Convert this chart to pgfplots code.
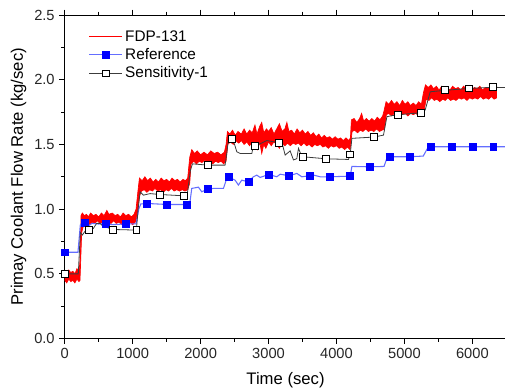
\documentclass[border=0pt]{standalone}
\usepackage{fontspec}
\setmainfont{Liberation Sans}
\usepackage{pgfplots}
\pgfplotsset{compat=1.18}
\usepgfplotslibrary{fillbetween}
\definecolor{refline}{RGB}{100,110,255}
\definecolor{sensline}{RGB}{60,60,60}
\begin{document}
\begin{tikzpicture}
\begin{axis}[
  scale only axis, width=331pt, height=242.5pt,
  xmin=0, xmax=6500, ymin=0, ymax=2.5,
  xtick={0,1000,2000,3000,4000,5000,6000}, minor x tick num=1,
  ytick={0,0.5,1.0,1.5,2.0,2.5}, minor y tick num=1,
  tick align=outside, xtick pos=both, ytick pos=left,
  major tick length=4pt, minor tick length=2.5pt,
  tick style={black, line width=0.6pt},
  axis line style={line width=0.7pt},
  /pgf/number format/assume math mode=true,
  xticklabel style={/pgf/number format/1000 sep={}},
  yticklabel style={/pgf/number format/fixed, /pgf/number format/fixed zerofill, /pgf/number format/precision=1},
  ticklabel style={font=\fontsize{11}{13}\selectfont, text=black!85},
  xlabel={Time (sec)}, ylabel={Primay Coolant Flow Rate (kg/sec)},
  label style={font=\fontsize{12.5}{14}\selectfont},
  xlabel style={yshift=-3pt},
  ylabel style={yshift=-1pt},
  legend style={at={(0.045,0.97)}, anchor=north west, draw=none, fill=none, font=\fontsize{11.5}{13}\selectfont, row sep=0pt},
  legend cell align=left,
  legend image code/.code={\draw[mark repeat=2,mark phase=2] plot coordinates {(0cm,0cm)(0.43cm,0cm)(0.86cm,0cm)};},
]
% FDP-131 upper envelope
\addplot[red, line width=0.5pt, name path=U, forget plot] coordinates {
(0,0.52)(30,0.50)(60,0.53)(90,0.51)(120,0.52)(150,0.50)(180,0.54)(210,0.52)(225,0.60)
(240,0.95)(260,0.97)(290,0.95)(320,0.96)(350,0.94)(380,0.97)(420,0.95)(460,0.96)(500,0.94)
(540,0.97)(580,0.95)(620,0.99)(650,0.96)(700,0.97)(740,0.95)(780,0.96)(820,0.94)(860,0.97)
(900,0.95)(940,0.96)(980,0.94)(1020,0.96)(1050,1.00)(1080,1.15)(1100,1.24)(1140,1.22)
(1180,1.25)(1220,1.22)(1260,1.24)(1300,1.21)(1340,1.23)(1380,1.21)(1420,1.24)(1460,1.22)
(1500,1.23)(1540,1.21)(1580,1.24)(1620,1.22)(1660,1.23)(1700,1.21)(1740,1.23)(1780,1.22)
(1810,1.24)(1840,1.40)(1870,1.46)(1910,1.43)(1950,1.45)(2000,1.42)(2050,1.44)(2100,1.42)
(2150,1.45)(2200,1.43)(2250,1.44)(2300,1.42)(2350,1.44)(2375,1.50)(2395,1.60)(2430,1.58)
(2470,1.61)(2510,1.57)(2550,1.60)(2600,1.58)(2640,1.62)(2680,1.58)(2720,1.61)(2760,1.59)
(2800,1.65)(2830,1.58)(2870,1.64)(2900,1.67)(2930,1.59)(2970,1.62)(3000,1.60)(3040,1.63)
(3080,1.58)(3120,1.62)(3160,1.66)(3200,1.60)(3240,1.62)(3270,1.67)(3300,1.60)(3340,1.61)
(3380,1.58)(3420,1.62)(3460,1.59)(3500,1.61)(3540,1.58)(3580,1.60)(3620,1.57)(3660,1.59)
(3700,1.56)(3740,1.58)(3780,1.55)(3820,1.57)(3860,1.55)(3900,1.56)(3940,1.54)(3980,1.56)
(4020,1.54)(4060,1.55)(4100,1.53)(4140,1.55)(4180,1.53)(4205,1.55)(4220,1.69)(4260,1.70)
(4300,1.67)(4340,1.70)(4370,1.74)(4400,1.68)(4440,1.70)(4480,1.68)(4520,1.70)(4560,1.68)
(4600,1.71)(4640,1.69)(4680,1.72)(4700,1.76)(4730,1.83)(4770,1.81)(4810,1.84)(4850,1.81)
(4890,1.83)(4930,1.80)(4970,1.84)(5010,1.81)(5050,1.83)(5090,1.80)(5130,1.82)(5170,1.80)
(5210,1.83)(5250,1.81)(5280,1.90)(5310,1.96)(5350,1.94)(5390,1.96)(5430,1.93)(5470,1.95)
(5510,1.92)(5550,1.95)(5590,1.93)(5630,1.94)(5670,1.92)(5710,1.95)(5750,1.93)(5790,1.94)
(5830,1.92)(5870,1.95)(5910,1.93)(5950,1.94)(5990,1.92)(6030,1.94)(6070,1.93)(6110,1.95)
(6150,1.92)(6190,1.94)(6230,1.93)(6270,1.95)(6310,1.93)(6360,1.94)
};
% FDP-131 lower envelope
\addplot[red, line width=0.5pt, name path=L, forget plot] coordinates {
(0,0.45)(30,0.43)(60,0.46)(90,0.44)(120,0.45)(150,0.43)(180,0.46)(210,0.44)(225,0.45)
(250,0.82)(280,0.88)(320,0.90)(360,0.88)(400,0.90)(440,0.89)(480,0.91)(520,0.89)(560,0.90)
(600,0.88)(640,0.90)(680,0.89)(720,0.91)(760,0.89)(800,0.90)(840,0.88)(880,0.90)(920,0.89)
(960,0.90)(1000,0.88)(1040,0.90)(1070,0.95)(1100,1.10)(1130,1.14)(1170,1.15)(1210,1.13)
(1250,1.15)(1290,1.14)(1330,1.16)(1370,1.14)(1410,1.15)(1450,1.13)(1490,1.15)(1530,1.14)
(1570,1.16)(1610,1.14)(1650,1.15)(1690,1.14)(1730,1.15)(1770,1.14)(1810,1.15)(1840,1.20)
(1860,1.35)(1900,1.37)(1940,1.35)(1980,1.37)(2020,1.36)(2060,1.38)(2100,1.36)(2140,1.37)
(2180,1.35)(2220,1.37)(2260,1.36)(2300,1.37)(2340,1.35)(2375,1.37)(2400,1.50)(2440,1.52)
(2480,1.50)(2520,1.53)(2560,1.51)(2600,1.53)(2640,1.50)(2680,1.52)(2720,1.49)(2760,1.52)
(2800,1.50)(2840,1.46)(2870,1.52)(2900,1.43)(2930,1.50)(2960,1.47)(3000,1.52)(3040,1.49)
(3080,1.52)(3120,1.50)(3160,1.47)(3200,1.51)(3240,1.49)(3280,1.51)(3320,1.49)(3360,1.51)
(3400,1.50)(3440,1.51)(3480,1.49)(3520,1.51)(3560,1.49)(3600,1.50)(3640,1.48)(3680,1.50)
(3720,1.49)(3760,1.50)(3800,1.48)(3840,1.49)(3880,1.47)(3920,1.49)(3960,1.48)(4000,1.49)
(4040,1.47)(4080,1.48)(4120,1.46)(4160,1.48)(4200,1.46)(4230,1.60)(4270,1.61)(4310,1.59)
(4350,1.61)(4390,1.60)(4430,1.62)(4470,1.60)(4510,1.61)(4550,1.60)(4590,1.62)(4630,1.60)
(4670,1.61)(4705,1.62)(4735,1.73)(4770,1.74)(4810,1.72)(4850,1.74)(4890,1.73)(4930,1.75)
(4970,1.73)(5010,1.74)(5050,1.72)(5090,1.74)(5130,1.73)(5170,1.74)(5210,1.72)(5250,1.74)
(5290,1.76)(5320,1.85)(5360,1.84)(5400,1.86)(5440,1.84)(5480,1.85)(5520,1.83)(5560,1.85)
(5600,1.84)(5640,1.86)(5680,1.84)(5720,1.85)(5760,1.84)(5800,1.86)(5840,1.85)(5880,1.86)
(5920,1.84)(5960,1.86)(6000,1.85)(6040,1.86)(6080,1.85)(6120,1.87)(6160,1.85)(6200,1.86)
(6240,1.85)(6280,1.87)(6320,1.85)(6360,1.86)
};
\addplot[red, forget plot] fill between[of=U and L];
% Reference line
\addplot[refline, line width=0.8pt, forget plot] coordinates {
(0,0.667)(195,0.667)(230,0.88)(270,0.90)(299,0.897)(350,0.87)(400,0.89)(500,0.885)(604,0.889)
(700,0.88)(903,0.886)(1050,0.886)(1090,1.00)(1120,1.04)(1207,1.044)(1507,1.036)(1801,1.036)
(1840,1.04)(1870,1.16)(1968,1.17)(2017,1.134)(2106,1.155)(2189,1.16)(2336,1.16)(2385,1.237)
(2410,1.247)(2508,1.224)(2557,1.186)(2606,1.224)(2704,1.211)(2778,1.25)(2827,1.263)(2876,1.245)
(3004,1.268)(3122,1.25)(3171,1.27)(3303,1.258)(3417,1.276)(3490,1.25)(3603,1.258)(3662,1.263)
(3760,1.25)(3903,1.25)(4202,1.255)(4227,1.33)(4496,1.327)(4700,1.33)(4750,1.405)(4791,1.405)
(5085,1.405)(5277,1.41)(5350,1.48)(5394,1.482)(5699,1.482)(6003,1.482)(6308,1.482)(6500,1.482)
};
\addplot[only marks, mark=square*, mark size=2.6pt, mark options={fill=blue, draw=blue}, forget plot] coordinates {
(0,0.667)(299,0.897)(604,0.889)(903,0.886)(1207,1.044)(1507,1.036)(1801,1.036)(2106,1.155)
(2410,1.247)(2704,1.211)(3004,1.268)(3303,1.258)(3603,1.258)(3903,1.25)(4202,1.255)(4496,1.327)
(4791,1.405)(5085,1.405)(5394,1.482)(5699,1.482)(6003,1.482)(6308,1.482)
};
% Sensitivity-1 line
\addplot[sensline, line width=0.6pt, forget plot] coordinates {
(0,0.50)(200,0.50)(230,0.82)(260,0.80)(300,0.83)(358,0.838)(420,0.85)(470,0.89)(520,0.89)
(560,0.87)(707,0.843)(1055,0.838)(1080,1.0)(1110,1.134)(1158,1.108)(1256,1.12)(1404,1.113)
(1752,1.103)(1800,1.10)(1850,1.30)(1880,1.35)(2106,1.34)(2360,1.34)(2385,1.43)(2410,1.54)
(2454,1.541)(2500,1.50)(2533,1.443)(2582,1.43)(2754,1.43)(2778,1.495)(2803,1.487)(2975,1.53)
(3156,1.513)(3195,1.53)(3219,1.47)(3245,1.418)(3318,1.45)(3367,1.38)(3416,1.39)(3441,1.47)
(3490,1.405)(3500,1.405)(3848,1.389)(4177,1.384)(4202,1.423)(4227,1.547)(4551,1.557)
(4692,1.572)(4742,1.714)(4791,1.72)(4898,1.729)(5247,1.745)(5306,1.766)(5380,1.907)
(5601,1.918)(5950,1.933)(6303,1.941)(6500,1.94)
};
\addplot[only marks, mark=square*, mark size=2.6pt, mark options={fill=white, draw=black, line width=0.6pt}, forget plot] coordinates {
(0,0.50)(358,0.838)(707,0.843)(1055,0.838)(1404,1.113)(1752,1.103)(2106,1.34)(2454,1.541)
(2803,1.487)(3156,1.513)(3500,1.405)(3848,1.389)(4202,1.423)(4551,1.557)(4898,1.729)
(5247,1.745)(5601,1.918)(5950,1.933)(6303,1.941)
};
\addlegendimage{red, line width=0.8pt}
\addlegendentry{FDP-131}
\addlegendimage{refline, line width=0.8pt, mark=square*, mark size=2.6pt, mark options={fill=blue, draw=blue}}
\addlegendentry{Reference}
\addlegendimage{sensline, line width=0.6pt, mark=square*, mark size=2.6pt, mark options={fill=white, draw=black}}
\addlegendentry{Sensitivity-1}
\end{axis}
\pgfresetboundingbox
\path[use as bounding box] ([xshift=-48.5pt, yshift=-38pt]current axis.south west) rectangle ([xshift=-1pt, yshift=11.25pt]current axis.north east);
\end{tikzpicture}
\end{document}
